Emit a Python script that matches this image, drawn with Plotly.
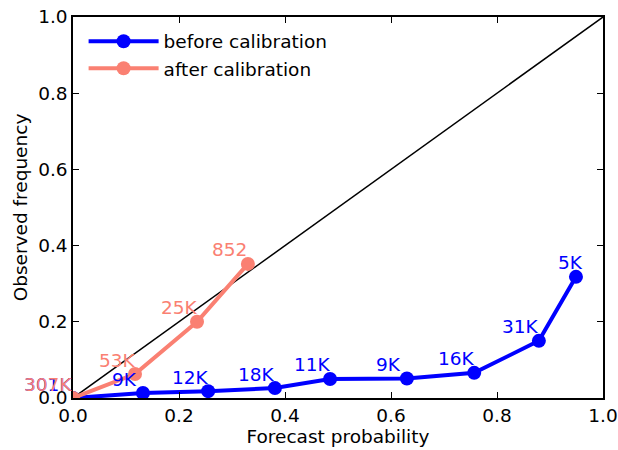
import plotly.graph_objects as go

before_x = [0.0, 0.132, 0.255, 0.381, 0.485, 0.630, 0.757, 0.879, 0.949]
before_y = [0.0, 0.013, 0.018, 0.026, 0.050, 0.051, 0.066, 0.150, 0.318]
before_labels = ["301K", "9K", "12K", "18K", "11K", "9K", "16K", "31K", "5K"]

after_x = [0.0, 0.117, 0.234, 0.330]
after_y = [0.0, 0.063, 0.200, 0.352]
after_labels = ["307K", "53K", "25K", "852"]

x_ticks = [0.0, 0.2, 0.4, 0.6, 0.8, 1.0]
y_ticks = [0.0, 0.2, 0.4, 0.6, 0.8, 1.0]

BLUE = "#0000ff"
SALMON = "#fa8072"
FONT = "DejaVu Sans"
FS = 18.5

fig = go.Figure()
fig.add_trace(go.Scatter(x=[0, 1], y=[0, 1], mode="lines",
                         line=dict(color="black", width=1.5), showlegend=False,
                         hoverinfo="skip"))
fig.add_trace(go.Scatter(x=before_x, y=before_y, mode="lines+markers",
                         name="before calibration",
                         line=dict(color=BLUE, width=4),
                         marker=dict(color=BLUE, size=14), cliponaxis=True))
fig.add_trace(go.Scatter(x=after_x, y=after_y, mode="lines+markers",
                         name="after calibration",
                         line=dict(color=SALMON, width=4),
                         marker=dict(color=SALMON, size=14), cliponaxis=True))

annotations = []
for i, (x, y, t) in enumerate(zip(before_x, before_y, before_labels)):
    last = i == len(before_x) - 1
    annotations.append(dict(x=x, y=y, text=t, showarrow=False,
                            xanchor="center", yanchor="middle",
                            xshift=-5 if last else -18, yshift=14,
                            font=dict(color=BLUE, size=FS, family=FONT)))
for x, y, t in zip(after_x, after_y, after_labels):
    annotations.append(dict(x=x, y=y, text=t, showarrow=False,
                            xanchor="center", yanchor="middle",
                            xshift=-18, yshift=14,
                            font=dict(color=SALMON, size=FS, family=FONT)))
# first labels sit further left
annotations[0]["xshift"] = -25
annotations[len(before_x)]["xshift"] = -25

axis_common = dict(range=[0, 1], showgrid=False, zeroline=False, automargin=False,
                   showline=True, linecolor="black", linewidth=1.5, mirror="ticks",
                   ticks="inside", ticklen=6, tickwidth=1, tickcolor="black",
                   tickfont=dict(size=FS, family=FONT, color="black"))

fig.update_layout(
    width=618, height=450,
    margin=dict(l=73, r=15, t=17, b=52),
    plot_bgcolor="white", paper_bgcolor="white",
    font=dict(family=FONT, size=FS, color="black"),
    xaxis=dict(**axis_common, tickvals=x_ticks,
               ticktext=[f"{v:.1f}" for v in x_ticks],
               title=dict(text="Forecast probability", standoff=4,
                          font=dict(size=FS, family=FONT))),
    yaxis=dict(**axis_common, tickvals=y_ticks,
               ticktext=[f"{v:.1f}" for v in y_ticks],
               title=dict(text="Observed frequency", standoff=6,
                          font=dict(size=FS, family=FONT))),
    legend=dict(x=0.02, y=0.985, xanchor="left", yanchor="top",
                bgcolor="rgba(0,0,0,0)", font=dict(size=FS, family=FONT),
                itemwidth=70, tracegroupgap=0),
    annotations=annotations,
)

fig.write_html("out.html")
